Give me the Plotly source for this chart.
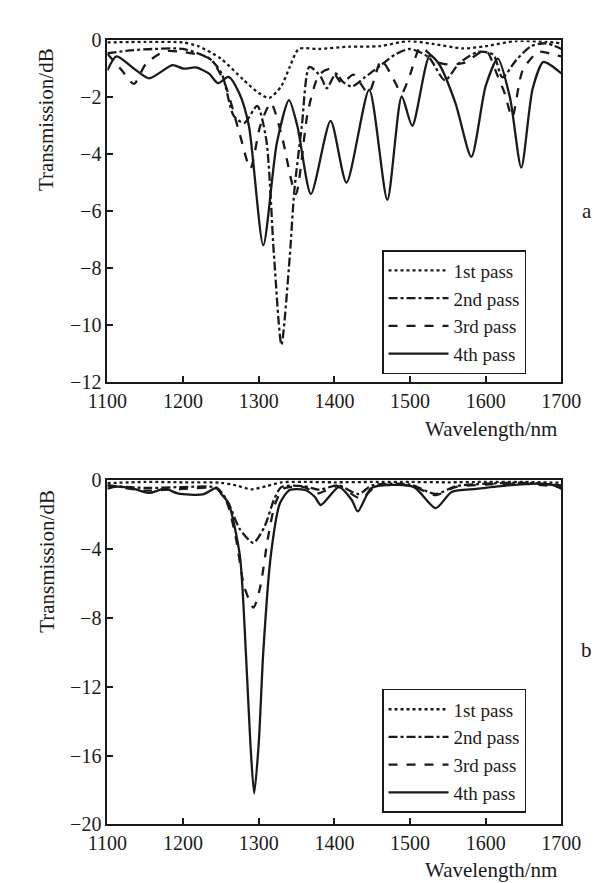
import plotly.graph_objects as go

# ---------------- data ----------------
pass_names = ["1st pass", "2nd pass", "3rd pass", "4th pass"]
x_ticks = [1100, 1200, 1300, 1400, 1500, 1600, 1700]
y_ticks_a = [0, -2, -4, -6, -8, -10, -12]
y_ticks_b = [0, -4, -8, -12, -16, -20]

# panel a
wl_a1 = [1100, 1150, 1200, 1220, 1250, 1280, 1300, 1314, 1330, 1341, 1353, 1380, 1420, 1460, 1498, 1530, 1570, 1600, 1640, 1680, 1700]
t_a1 = [-0.07, -0.05, -0.07, -0.2, -0.64, -1.39, -1.85, -2.02, -1.6, -0.93, -0.3, -0.3, -0.22, -0.2, -0.02, -0.12, -0.28, -0.2, -0.02, -0.05, -0.1]

wl_a2 = [1100, 1130, 1160, 1200, 1235, 1251, 1267, 1281, 1298, 1310, 1320, 1330, 1341, 1347, 1357, 1367, 1382, 1390, 1402, 1411, 1423, 1440, 1460, 1480, 1500, 1525, 1546, 1565, 1590, 1610, 1622, 1640, 1660, 1680, 1700]
t_a2 = [-0.45, -0.35, -0.3, -0.3, -0.64, -1.16, -2.65, -2.9, -2.3, -3.5, -7.5, -10.7, -7.6, -5.3, -3.0, -0.93, -1.28, -1.68, -1.16, -1.45, -1.62, -1.3, -0.9, -0.5, -0.3, -0.6, -1.4, -0.8, -0.4, -0.5, -1.3, -0.7, -0.2, -0.1, -0.3]

wl_a3 = [1100, 1119, 1135, 1151, 1176, 1201, 1226, 1238, 1255, 1275, 1289, 1302, 1316, 1330, 1349, 1365, 1380, 1395, 1410, 1425, 1445, 1462, 1475, 1489, 1500, 1514, 1540, 1570, 1600, 1615, 1625, 1635, 1649, 1670, 1690, 1700]
t_a3 = [-0.47, -1.05, -1.53, -0.82, -0.38, -0.41, -0.53, -0.70, -1.5, -3.3, -4.5, -3.0, -2.2, -3.3, -5.4, -2.5, -1.2, -1.0, -1.5, -1.2, -1.85, -0.7, -1.2, -1.85, -1.2, -0.24, -0.8, -0.8, -0.35, -1.2, -1.85, -2.7, -1.04, -0.4, -0.5, -0.56]

wl_a4 = [1100, 1112, 1135, 1155, 1186, 1201, 1217, 1234, 1246, 1260, 1275, 1287, 1306, 1324, 1340, 1351, 1369, 1395, 1416, 1446, 1470, 1489, 1503, 1526, 1538, 1560, 1581, 1600, 1616, 1632, 1647, 1662, 1676, 1686, 1700]
t_a4 = [-1.05, -0.56, -0.99, -1.33, -0.87, -0.99, -0.95, -1.16, -1.5, -1.28, -1.9, -3.0, -7.2, -3.6, -2.1, -3.0, -5.4, -2.83, -5.0, -1.73, -5.6, -1.97, -3.0, -0.53, -0.82, -2.2, -4.09, -1.6, -0.64, -2.0, -4.47, -1.7, -0.76, -0.87, -1.16]

# panel b
wl_b1 = [1100, 1150, 1200, 1250, 1270, 1290, 1310, 1330, 1360, 1400, 1450, 1500, 1550, 1600, 1650, 1700]
t_b1 = [-0.17, -0.1, -0.12, -0.15, -0.3, -0.53, -0.35, -0.12, -0.1, -0.12, -0.1, -0.1, -0.12, -0.1, -0.1, -0.15]

wl_b2 = [1100, 1150, 1200, 1245, 1260, 1275, 1293, 1308, 1320, 1330, 1360, 1380, 1405, 1432, 1450, 1500, 1534, 1560, 1600, 1650, 1700]
t_b2 = [-0.3, -0.45, -0.4, -0.45, -1.34, -2.84, -3.64, -2.66, -1.15, -0.4, -0.35, -0.55, -0.3, -0.8, -0.3, -0.25, -0.8, -0.35, -0.2, -0.15, -0.3]

wl_b3 = [1100, 1150, 1200, 1245, 1258, 1270, 1281, 1293, 1302, 1312, 1322, 1333, 1360, 1377, 1405, 1435, 1455, 1500, 1534, 1560, 1600, 1650, 1700]
t_b3 = [-0.3, -0.6, -0.5, -0.5, -1.3, -3.4, -6.2, -7.4, -6.2, -3.4, -1.34, -0.49, -0.4, -0.77, -0.35, -1.06, -0.35, -0.3, -0.86, -0.4, -0.25, -0.2, -0.4]

wl_b4 = [1100, 1112, 1135, 1155, 1176, 1193, 1226, 1244, 1250, 1260, 1275, 1283, 1289, 1294, 1300, 1306, 1316, 1328, 1341, 1361, 1374, 1382, 1406, 1423, 1431, 1448, 1463, 1505, 1534, 1555, 1588, 1629, 1670, 1690, 1700]
t_b4 = [-0.49, -0.37, -0.5, -0.74, -0.49, -0.77, -0.83, -0.45, -0.77, -1.34, -4.36, -10.0, -15.3, -18.2, -15.3, -10.0, -4.36, -1.34, -0.57, -0.57, -0.96, -1.44, -0.4, -1.15, -1.81, -0.49, -0.3, -0.4, -1.62, -0.68, -0.5, -0.3, -0.2, -0.3, -0.5]

# ---------------- figure ----------------
dashes = ["dot", "dashdot", "dash", "solid"]
ink = "#1a1a1a"
serif = "Liberation Serif, Times New Roman, serif"

panel_a = [(wl_a1, t_a1), (wl_a2, t_a2), (wl_a3, t_a3), (wl_a4, t_a4)]
panel_b = [(wl_b1, t_b1), (wl_b2, t_b2), (wl_b3, t_b3), (wl_b4, t_b4)]

fig = go.Figure()
for i, (wl, t) in enumerate(panel_a):
    fig.add_trace(go.Scatter(x=wl, y=t, mode="lines", name=pass_names[i],
                             line=dict(color=ink, width=2.3, dash=dashes[i], shape="spline", smoothing=0.7),
                             xaxis="x", yaxis="y", legend="legend"))
for i, (wl, t) in enumerate(panel_b):
    fig.add_trace(go.Scatter(x=wl, y=t, mode="lines", name=pass_names[i],
                             line=dict(color=ink, width=2.3, dash=dashes[i], shape="spline", smoothing=0.7),
                             xaxis="x2", yaxis="y2", legend="legend2"))

W, H = 607, 883
xd = [85 / W, 571 / W]
ya = [1 - 372 / H, 1 - 22 / H]
yb = [1 - 826 / H, 1 - 473 / H]

axis_common = dict(showline=True, linecolor=ink, linewidth=2, mirror=True,
                   ticks="inside", ticklen=6, tickwidth=1.5, tickcolor=ink,
                   showgrid=False, zeroline=False,
                   tickfont=dict(family=serif, size=20, color=ink))

legend_common = dict(x=379 / W, xanchor="left", yanchor="top",
                     bordercolor=ink, borderwidth=1.5, bgcolor="white",
                     font=dict(family=serif, size=19, color=ink),
                     tracegroupgap=0, itemwidth=60)

fig.update_layout(
    width=W, height=H, margin=dict(l=0, r=0, t=0, b=0),
    paper_bgcolor="white", plot_bgcolor="white",
    xaxis=dict(domain=xd, range=[1100, 1700], tickvals=x_ticks, anchor="y", **axis_common),
    yaxis=dict(domain=ya, range=[-12, 0], tickvals=y_ticks_a, anchor="x", **axis_common),
    xaxis2=dict(domain=xd, range=[1100, 1700], tickvals=x_ticks, anchor="y2", **axis_common),
    yaxis2=dict(domain=yb, range=[-20, 0], tickvals=y_ticks_b, anchor="x2", **axis_common),
    legend=dict(y=1 - 237 / H, **legend_common),
    legend2=dict(y=1 - 687 / H, **legend_common),
    showlegend=True,
)

ann_font = dict(family=serif, size=21, color=ink)
for ytitle_c, xlab_y, letter, letter_y in [(103, 420, "a", 197), (556, 873, "b", 647)]:
    fig.add_annotation(text="Transmission/dB", textangle=-90, xref="paper", yref="paper",
                       x=20 / W, y=1 - ytitle_c / H, showarrow=False, font=ann_font,
                       xanchor="center", yanchor="middle")
    fig.add_annotation(text="Wavelength/nm", xref="paper", yref="paper",
                       x=568 / W, y=1 - xlab_y / H, showarrow=False, font=ann_font,
                       xanchor="right", yanchor="middle")
    fig.add_annotation(text=letter, xref="paper", yref="paper",
                       x=598 / W, y=1 - letter_y / H, showarrow=False, font=ann_font,
                       xanchor="center", yanchor="middle")

fig.write_html("out.html")
